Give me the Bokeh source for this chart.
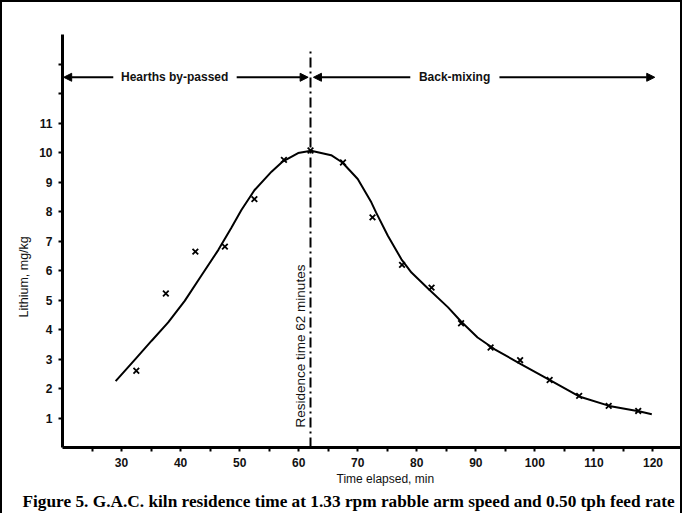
import math
from bokeh.plotting import figure
from bokeh.models import Range1d, FixedTicker, Label, Arrow, NormalHead, Title
from bokeh.embed import file_html
from bokeh.resources import INLINE

# ---- data ----
time_points = [32.5, 37.5, 42.5, 47.5, 52.5, 57.5, 62.0, 67.5, 72.5, 77.5,
               82.5, 87.5, 92.5, 97.5, 102.5, 107.5, 112.5, 117.5]
lithium_points = [2.60, 5.22, 6.64, 6.81, 8.42, 9.75, 10.07, 9.66, 7.80, 6.19,
                  5.42, 4.21, 3.39, 2.96, 2.29, 1.75, 1.41, 1.24]

curve_time = [29.0, 32.3, 35.1, 37.9, 40.7, 43.5, 46.4, 48.6, 50.3, 52.5,
              55.4, 57.2, 59.9, 62.1, 65.5, 67.4, 70.0, 72.3, 73.1, 75.1,
              77.4, 79.1, 81.9, 85.3, 87.5, 90.3, 93.2, 97.7, 102.7, 107.5,
              112.6, 117.8, 119.8]
curve_lithium = [2.25, 2.99, 3.62, 4.24, 4.97, 5.82, 6.70, 7.45, 8.05, 8.72,
                 9.35, 9.68, 9.98, 10.06, 9.91, 9.66, 9.10, 8.31, 7.97, 7.18,
                 6.38, 5.93, 5.39, 4.75, 4.27, 3.73, 3.33, 2.82, 2.27, 1.73,
                 1.41, 1.22, 1.13]

residence_time = 62
x_major_ticks = [30, 40, 50, 60, 70, 80, 90, 100, 110, 120]
x_minor_ticks = [25, 35, 45, 55, 65, 75, 85, 95, 105, 115]
y_ticks = [1, 2, 3, 4, 5, 6, 7, 8, 9, 10, 11, 12, 13]
y_tick_labels = {12: "", 13: ""}

title_text = "Figure 5. G.A.C. kiln residence time at 1.33 rpm rabble arm speed and 0.50 tph feed rate"
x_label = "Time elapsed, min"
y_label = "Lithium, mg/kg"
left_zone = "Hearths by-passed"
right_zone = "Back-mixing"
residence_label = "Residence time 62 minutes"

SANS = "Liberation Sans"
SERIF = "Liberation Serif"

p = figure(width=682, height=513, x_range=Range1d(20, 125), y_range=Range1d(0, 14),
           output_backend="svg", toolbar_location=None,
           min_border_left=62, min_border_right=0, min_border_top=34, min_border_bottom=66)
p.border_fill_color = None
p.background_fill_color = None
p.outline_line_color = None
p.grid.visible = False
p.styles = {"box-shadow": "inset 2px 2px 0 0 #000, inset -2px 0 0 0 #000",
            "background-color": "white"}

xa = p.xaxis[0]
xa.ticker = FixedTicker(ticks=x_major_ticks, minor_ticks=x_minor_ticks)
ya = p.yaxis[0]
ya.ticker = FixedTicker(ticks=y_ticks)
ya.major_label_overrides = y_tick_labels
for ax in (xa, ya):
    ax.axis_line_width = 3
    ax.axis_line_color = "black"
    ax.major_tick_line_width = 2
    ax.major_tick_in = 0
    ax.major_tick_out = 4
    ax.minor_tick_line_width = 2
    ax.minor_tick_in = 0
    ax.minor_tick_out = 4
    ax.major_label_text_font = SANS
    ax.major_label_text_font_style = "bold"
    ax.major_label_text_font_size = "12px"
    ax.major_label_text_color = "#111"
    ax.major_label_standoff = 6
ya.minor_tick_line_color = None

# y axis title (left side), placed lower like the reference
p.add_layout(Title(text=y_label, align="left", offset=130, standoff=12,
                   text_font=SANS, text_font_style="normal", text_font_size="12.5px",
                   text_color="#111"), "left")
# x axis title
p.add_layout(Title(text=x_label, align="left", offset=274, standoff=1,
                   text_font=SANS, text_font_style="normal", text_font_size="12px",
                   text_color="#111"), "below")
# caption under the chart
p.add_layout(Title(text=title_text, align="left", offset=-40, standoff=6,
                   text_font=SERIF, text_font_style="bold", text_font_size="17.3px",
                   text_color="black"), "below")

# curve and measured points
p.line(curve_time, curve_lithium, line_color="black", line_width=2)
p.scatter(time_points, lithium_points, marker="x", size=8, line_width=1.8, line_color="black")

# residence time line
p.segment(x0=[residence_time], y0=[0], x1=[residence_time], y1=[13.45],
          line_color="black", line_width=2, line_dash="10 4 2 4")

arrow_y = 12.55
head = dict(size=8, fill_color="black", line_color="black")
p.add_layout(Arrow(end=NormalHead(**head), x_start=28.6, y_start=arrow_y, x_end=20.2, y_end=arrow_y,
                   line_width=2))
p.add_layout(Arrow(end=NormalHead(**head), x_start=49.5, y_start=arrow_y, x_end=61.6, y_end=arrow_y,
                   line_width=2))
p.add_layout(Arrow(end=NormalHead(**head), x_start=78.9, y_start=arrow_y, x_end=62.5, y_end=arrow_y,
                   line_width=2))
p.add_layout(Arrow(end=NormalHead(**head), x_start=94.0, y_start=arrow_y, x_end=120.3, y_end=arrow_y,
                   line_width=2))

p.add_layout(Label(x=39.0, y=arrow_y, text=left_zone, text_align="center", text_baseline="middle",
                   text_font=SANS, text_font_style="bold", text_font_size="12px", text_color="#111"))
p.add_layout(Label(x=86.4, y=arrow_y, text=right_zone, text_align="center", text_baseline="middle",
                   text_font=SANS, text_font_style="bold", text_font_size="12px", text_color="#111"))
p.add_layout(Label(x=60.3, y=0.68, text=residence_label, angle=math.pi / 2, text_align="left",
                   text_baseline="middle", text_font=SANS, text_font_size="13.5px", text_color="#111"))

open("out.html", "w").write(file_html(p, INLINE))
